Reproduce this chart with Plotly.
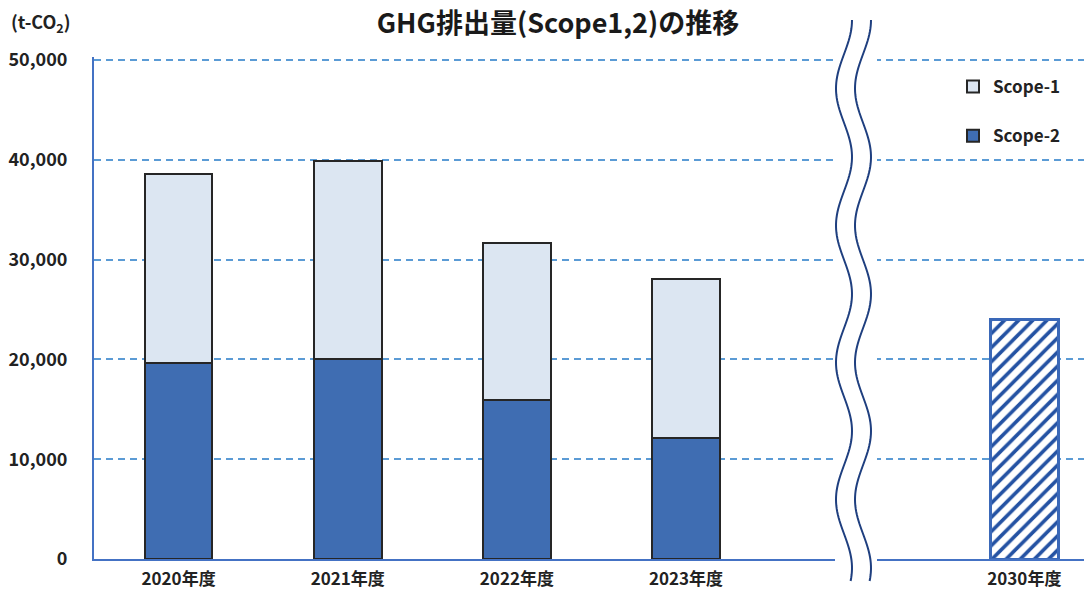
import math
import plotly.graph_objects as go

# ---- data ----
years = ["2020年度", "2021年度", "2022年度", "2023年度"]
scope2 = [19600, 20000, 15900, 12100]
scope1 = [19000, 19900, 15800, 15950]
target_year = "2030年度"
target_total = [23950]
gap_label = " "
y_ticks = [0, 10000, 20000, 30000, 40000, 50000]

# page body has an 8px margin: work in screenshot pixels, convert to figure pixels
OFF = 8
W, H = 1084, 587
PLOT_L, PLOT_TOP50K, PLOT_ZERO = 94, 60, 559
Y_TOP = 50300
px_per_unit = (PLOT_ZERO - PLOT_TOP50K) / 50000
ML = PLOT_L - OFF
MR = 0
MB = (H + OFF) - PLOT_ZERO
MT = round(PLOT_TOP50K - OFF - (Y_TOP - 50000) * px_per_unit)
FONT = "Noto Sans CJK JP"

cat_order = years + [gap_label, target_year]

fig = go.Figure()
fig.add_trace(go.Bar(
    x=years, y=scope2, name="Scope-2", legendrank=2, legendgroup="s2",
    marker=dict(color="#3f6db2", line=dict(color="#262626", width=2)),
    width=0.4,
))
fig.add_trace(go.Bar(
    x=years, y=scope1, name="Scope-1", legendrank=1, legendgroup="s1",
    marker=dict(color="#dce6f2", line=dict(color="#262626", width=2)),
    width=0.4,
))
fig.add_trace(go.Bar(
    x=[target_year], y=target_total, name="target", showlegend=False,
    marker=dict(color="white", line=dict(color="#3a68b8", width=3),
                pattern=dict(shape="/", fgcolor="#2452a3", bgcolor="white",
                             fgopacity=1, fillmode="overlay",
                             size=10, solidity=0.36)),
    width=0.4,
))

# ---- axis break decoration (screenshot pixel -> paper) ----
def px2paper(px, py):
    fx, fy = px - OFF, py - OFF
    return (fx - ML) / (W - ML - MR), (H - MB - fy) / (H - MT - MB)

def wave(offset):
    pts = []
    y = 20
    while y <= 582:
        x = 844 + offset + 8 * math.cos(2 * math.pi * (y - 20) / 137)
        pts.append(px2paper(x, y))
        y += 3
    return "M " + " L ".join(f"{a:.5f},{b:.5f}" for a, b in pts)

x0, y0 = px2paper(835, 592)
x1, y1 = px2paper(877, 8)
shapes = [
    dict(type="rect", xref="paper", yref="paper", x0=x0, x1=x1, y0=y0, y1=y1,
         fillcolor="white", line=dict(width=0), layer="above"),
    dict(type="path", xref="paper", yref="paper", path=wave(0),
         line=dict(color="#1f3f7f", width=2), layer="above"),
    dict(type="path", xref="paper", yref="paper", path=wave(19),
         line=dict(color="#1f3f7f", width=2), layer="above"),
]

lx, ly = px2paper(953, 69)
ax_, ay_ = px2paper(9, 22)

fig.update_layout(
    width=W, height=H,
    margin=dict(l=ML, r=MR, t=MT, b=MB, autoexpand=False),
    paper_bgcolor="white", plot_bgcolor="white",
    barmode="stack",
    font=dict(family=FONT, color="#222222", size=15),
    title=dict(text="GHG排出量(Scope1,2)の推移", x=(558 - OFF) / W, xanchor="center",
               y=1 - (24 - OFF) / H, yanchor="middle",
               font=dict(family=FONT, size=27, color="#1a1a1a", weight="bold")),
    xaxis=dict(type="category", categoryorder="array", categoryarray=cat_order,
               range=[-0.5, 5.4], showline=True, linecolor="#4472c4", linewidth=2,
               showgrid=False, ticks="", automargin=False, ticklabelstandoff=4,
               tickfont=dict(size=17, family=FONT, weight="bold")),
    yaxis=dict(range=[0, Y_TOP], tickvals=y_ticks, tickformat=",",
               showline=True, linecolor="#4472c4", linewidth=2,
               showgrid=True, gridcolor="#5b9bd5", gridwidth=2, griddash="7px,5px",
               zeroline=False, ticks="", ticklabelstandoff=21, automargin=False,
               tickfont=dict(size=18, family=FONT, weight="bold")),
    legend=dict(x=lx, y=ly, xanchor="left", yanchor="top",
                traceorder="grouped", tracegroupgap=24,
                font=dict(size=17, family=FONT, weight="bold"),
                bgcolor="rgba(0,0,0,0)", itemwidth=30),
    shapes=shapes,
    annotations=[dict(text="(t-CO<sub>2</sub>)", xref="paper", yref="paper",
                      x=ax_, y=ay_, xanchor="left", yanchor="middle", showarrow=False,
                      font=dict(size=18, family=FONT, weight="bold"))],
)

fig.write_html("out.html")
